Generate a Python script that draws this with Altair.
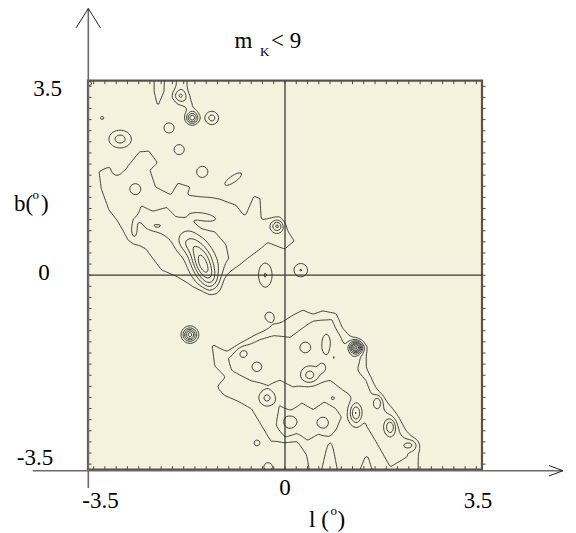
import numpy as np
import pandas as pd
import altair as alt

alt.data_transformers.disable_max_rows()

# ---------------------------------------------------------------------------
# Data (galactic l, b in degrees)
# Outlines of the low-density regions (level-1 / level-2 plateaus)
nw_l = [-3.34, -3.05, -2.85, -2.6, -2.4, -2.22, -2.36, -2.27, -2.04, -1.92, -1.65, -1.69,
        -1.15, -0.85, -0.72, -0.57, -0.41, -0.39, -0.09, 0.21, 0.0, -0.3, -0.55, -0.8,
        -1.10, -1.35, -1.63, -1.95, -2.22, -2.5, -2.81, -3.0, -3.16, -3.3]
nw_b = [1.88, 2.05, 1.95, 2.25, 2.27, 2.02, 1.88, 1.61, 1.49, 1.70, 1.61, 1.47,
        1.40, 1.29, 1.12, 1.47, 1.40, 1.04, 1.07, 0.61, 0.43, 0.55, 0.35, 0.15,
        -0.05, -0.28, -0.23, -0.05, 0.07, 0.45, 0.61, 0.95, 1.16, 1.55]

nw2_l = [-2.55, -2.35, -2.1, -1.95, -1.7, -1.5, -1.25, -1.05, -1.0, -1.15, -1.3, -1.55,
         -1.75, -1.95, -2.2, -2.45, -2.65]
nw2_b = [1.25, 1.15, 1.22, 1.05, 0.98, 0.82, 0.78, 0.55, 0.3, 0.1, 0.25, 0.4,
         0.5, 0.6, 0.75, 0.9, 1.0]

tongue_l = [-2.36, -2.36, -2.30, -2.26, -2.20, -2.12, -2.10]
tongue_b = [3.80, 3.30, 3.05, 2.93, 3.10, 3.30, 3.80]

cap_l = [-1.98, -1.95, -1.98, -1.90, -1.75, -1.62, -1.62, -1.72, -1.68]
cap_b = [3.80, 3.35, 3.20, 3.08, 2.98, 2.95, 3.10, 3.30, 3.80]

se_l = [-1.33, -1.28, -1.03, -0.85, -0.57, -0.32, -0.09, 0.14, 0.32, 0.50, 0.67, 0.92,
        1.03, 1.21, 1.46, 1.47, 1.56, 1.69, 1.92, 2.04, 2.17, 2.34, 2.40, 2.40,
        1.60, 1.45, 1.25, 0.95, 0.80, 0.62, 0.45, 0.35, 0.21, -0.27, -0.62, -0.85,
        -1.10, -1.21, -1.10, -1.28]
se_b = [-1.26, -1.21, -1.35, -1.26, -1.08, -0.95, -0.83, -0.68, -0.59, -0.68, -0.61, -0.68,
        -0.94, -1.12, -1.29, -1.65, -1.89, -2.12, -2.37, -2.55, -2.79, -2.97, -3.15, -3.80,
        -3.80, -3.30, -3.80, -3.80, -3.00, -3.80, -3.80, -3.25, -3.02, -3.02, -2.43, -2.30,
        -2.19, -2.01, -1.83, -1.65]

se2_l = [0.09, 0.50, 0.85, 1.01, 1.10, 1.28, 1.47, 1.56, 1.87, 2.10, 2.17, 1.87,
         1.63, 1.46, 1.39, 1.03, 0.80, 0.50, 0.14, -0.09, -0.30, -0.60, -0.95, -1.02,
         -0.75, -0.45, -0.20]
se2_b = [-1.12, -0.81, -0.77, -1.12, -1.47, -1.71, -1.89, -2.19, -2.55, -2.91, -3.27, -3.45,
         -3.02, -2.73, -2.30, -2.07, -1.89, -1.94, -2.01, -1.89, -1.97, -1.90, -1.72, -1.48,
         -1.27, -1.14, -1.08]

se3_l = [-0.10, 0.10, 0.30, 0.50, 0.70, 0.90, 1.00, 0.92, 0.80, 0.60, 0.40, 0.20, 0.00, -0.15]
se3_b = [-2.35, -2.45, -2.30, -2.42, -2.28, -2.40, -2.55, -2.75, -2.95, -2.85, -2.98, -2.85,
         -2.95, -2.70]

region_outlines = [(nw_l, nw_b, 1.5), (nw2_l, nw2_b, 1.0), (tongue_l, tongue_b, 1.5),
                   (cap_l, cap_b, 1.5), (se_l, se_b, 1.5), (se2_l, se2_b, 1.0),
                   (se3_l, se3_b, 1.0)]

# Density peaks: centre, height (in contour steps), widths (deg), tilt (deg)
pk_l = [-1.86, -1.65, -1.30, -2.06, -3.25, -2.93, -1.88, -1.47, -0.92, -0.14,
        -2.66, -2.68, -2.30, -1.45, -1.45, -2.99, -3.47, 0.28, -0.35, -1.69,
        -0.28, 1.26, 1.22, 1.26, 1.87, 1.65, 0.44, 0.09, 0.67, 2.22,
        0.85, 0.67, -0.75, -0.50, -0.32, -1.10, -0.50, -0.30,
        -1.78, 0.36, 0.73, 0.85]
pk_b = [3.23, 2.83, 2.83, 2.65, 2.83, 2.45, 2.26, 1.86, 1.73, 0.88,
        1.55, 0.80, 0.88, 0.18, 1.05, 1.88, 3.45, 0.09, 0.00, -1.07,
        -0.74, -1.30, -1.52, -2.48, -2.73, -2.28, -1.80, -2.64, -2.66, -3.06,
        -2.21, -1.65, -1.40, -1.65, -2.21, -2.01, -3.02, -3.45,
        0.55, -1.30, -1.26, -1.47]
pk_amp = [1.8, 4.6, 2.4, 1.5, 1.6, 2.4, 1.5, 1.5, 1.4, 2.8,
          0.9, 0.8, 0.8, 5.0, 0.9, -0.8, 1.3, 2.05, 2.05, 5.5,
          1.4, 7.0, 0.9, 3.5, 2.6, 1.8, 2.0, 1.3, 1.0, 1.7,
          0.6, 0.8, 0.9, 0.9, 1.8, 0.7, 1.4, 1.8,
          0.9, 0.8, -0.8, 0.7]
pk_sl = [0.08, 0.075, 0.09, 0.10, 0.03, 0.15, 0.10, 0.11, 0.22, 0.07,
         0.09, 0.05, 0.12, 0.30, 0.20, 0.08, 0.05, 0.10, 0.10, 0.085,
         0.09, 0.075, 0.10, 0.075, 0.065, 0.06, 0.10, 0.09, 0.09, 0.10,
         0.035, 0.07, 0.08, 0.08, 0.09, 0.05, 0.06, 0.07,
         0.13, 0.10, 0.08, 0.035]
pk_sb = [0.08, 0.075, 0.09, 0.10, 0.03, 0.12, 0.10, 0.11, 0.07, 0.07,
         0.09, 0.13, 0.05, 0.13, 0.06, 0.08, 0.05, 0.10, 0.18, 0.085,
         0.09, 0.075, 0.10, 0.13, 0.10, 0.09, 0.10, 0.09, 0.09, 0.07,
         0.035, 0.10, 0.08, 0.08, 0.09, 0.05, 0.06, 0.07,
         0.13, 0.10, 0.20, 0.10]
pk_tilt = [0, 0, 0, 0, 0, 0, 0, 0, 35, 0,
           0, 0, 0, -65, -10, 0, 0, 0, 0, 0,
           0, 0, 0, 0, 0, 0, 0, 0, 0, 0,
           0, 0, 0, 0, 0, 0, 0, 0,
           0, 0, 0, 0]

levels = [1, 2, 3, 4, 5, 6, 7, 8]

ytick_text = ["3.5", "0", "-3.5"]
xtick_text = ["-3.5", "0", "3.5"]
edge_ticks = [round(v, 1) for v in np.arange(-3.4, 3.41, 0.2)]

# ---------------------------------------------------------------------------
# Density grid built from the regions and peaks, then contoured
gl = np.linspace(-3.5, 3.5, 235)
gb = np.linspace(-3.5, 3.5, 235)
step = gl[1] - gl[0]
LL, BB = np.meshgrid(gl, gb)


def region_field(pl, pb, height, width=0.05):
    P = np.column_stack([pl, pb]).astype(float)
    Q = np.roll(P, -1, axis=0)
    x = LL.ravel()[:, None]
    y = BB.ravel()[:, None]
    ax, ay = P[:, 0][None, :], P[:, 1][None, :]
    bx, by = Q[:, 0][None, :], Q[:, 1][None, :]
    dx, dy = bx - ax, by - ay
    t = np.clip(((x - ax) * dx + (y - ay) * dy) / (dx * dx + dy * dy), 0, 1)
    dist = np.sqrt((x - ax - t * dx) ** 2 + (y - ay - t * dy) ** 2).min(axis=1)
    cond = (ay > y) != (by > y)
    den = np.where(by - ay == 0, 1e-12, by - ay)
    xint = ax + (y - ay) * (bx - ax) / den
    inside = (cond & (x < xint)).sum(axis=1) % 2 == 1
    sd = np.where(inside, dist, -dist)
    return (height / (1 + np.exp(-sd / width))).reshape(LL.shape)


F = np.zeros_like(LL)
for pl, pb, h in region_outlines:
    F += region_field(pl, pb, h)
for l0, b0, a, sl, sb, tilt in zip(pk_l, pk_b, pk_amp, pk_sl, pk_sb, pk_tilt):
    th = np.deg2rad(tilt)
    u = (LL - l0) * np.cos(th) + (BB - b0) * np.sin(th)
    v = -(LL - l0) * np.sin(th) + (BB - b0) * np.cos(th)
    F += a * np.exp(-0.5 * ((u / sl) ** 2 + (v / sb) ** 2))

TABLE = {1: (3, 0), 2: (0, 1), 3: (3, 1), 4: (1, 2), 6: (0, 2), 7: (3, 2), 8: (2, 3),
         9: (0, 2), 11: (1, 2), 12: (3, 1), 13: (0, 1), 14: (3, 0)}


def trace(level):
    A = (F > level).astype(np.int16)
    case = A[:-1, :-1] + 2 * A[:-1, 1:] + 4 * A[1:, 1:] + 8 * A[1:, :-1]
    js, iis = np.nonzero((case > 0) & (case < 15))
    adj = {}

    def add(a, b):
        adj.setdefault(a, []).append(b)
        adj.setdefault(b, []).append(a)

    for j, i in zip(js.tolist(), iis.tolist()):
        c = int(case[j, i])
        e = (("h", j, i), ("v", j, i + 1), ("h", j + 1, i), ("v", j, i))
        if c in (5, 10):
            centre = (F[j, i] + F[j, i + 1] + F[j + 1, i + 1] + F[j + 1, i]) / 4 > level
            if c == 5:
                pairs = ((0, 1), (2, 3)) if centre else ((3, 0), (1, 2))
            else:
                pairs = ((3, 0), (1, 2)) if centre else ((0, 1), (2, 3))
        else:
            pairs = (TABLE[c],)
        for p, q in pairs:
            add(e[p], e[q])

    def pos(key):
        k, j, i = key
        if k == "h":
            f0, f1 = F[j, i], F[j, i + 1]
            t = (level - f0) / (f1 - f0)
            return gl[i] + t * step, gb[j]
        f0, f1 = F[j, i], F[j + 1, i]
        t = (level - f0) / (f1 - f0)
        return gl[i], gb[j] + t * step

    visited = set()
    paths = []
    starts = [k for k, v in adj.items() if len(v) == 1] + list(adj.keys())
    for s in starts:
        if s in visited:
            continue
        path = [s]
        visited.add(s)
        cur = s
        while True:
            nxt = next((n for n in adj[cur] if n not in visited), None)
            if nxt is None:
                break
            visited.add(nxt)
            path.append(nxt)
            cur = nxt
        if len(path) > 2 and s in adj[cur]:
            path.append(s)
        paths.append([pos(k) for k in path])
    return paths


rows = []
line_id = 0
for lev in levels:
    for path in trace(lev):
        for k, (l, b) in enumerate(path):
            rows.append((round(float(l), 4), round(float(b), 4), line_id, k))
        line_id += 1
contour_df = pd.DataFrame(rows, columns=["l", "b", "line", "k"])

# ---------------------------------------------------------------------------
SERIF = "Liberation Serif"
INK = "#2b2b2b"
W, H = 394, 389
OX, OY = 88.0, 80.7  # page position of the plot area

xs = alt.Scale(domain=[-3.5, 3.5], nice=False, zero=False)
ys = alt.Scale(domain=[-3.5, 3.5], nice=False, zero=False)
one = pd.DataFrame({"z": [0]})


def text(t, px, py, size=23, align="center"):
    return alt.Chart(pd.DataFrame({"t": [t]})).mark_text(
        font=SERIF, fontSize=size, align=align, baseline="alphabetic", color="black"
    ).encode(x=alt.value(px - OX), y=alt.value(py - OY), text="t:N")


def seg(x1, y1, x2, y2, color="#222222", w=1.0):
    return alt.Chart(one).mark_rule(color=color, strokeWidth=w).encode(
        x=alt.value(x1 - OX), y=alt.value(y1 - OY), x2=alt.value(x2 - OX), y2=alt.value(y2 - OY))


vline = alt.Chart(pd.DataFrame({"l": [0.0]})).mark_rule(color="#3a3a3a", strokeWidth=1.3).encode(
    x=alt.X("l:Q", scale=xs, axis=None))
hline = alt.Chart(pd.DataFrame({"b": [0.0]})).mark_rule(color="#3a3a3a", strokeWidth=1.3).encode(
    y=alt.Y("b:Q", scale=ys, axis=None))

contours = alt.Chart(contour_df).mark_line(color=INK, strokeWidth=0.9, clip=True).encode(
    x=alt.X("l:Q", scale=xs, axis=None),
    y=alt.Y("b:Q", scale=ys, axis=None),
    detail="line:N",
    order="k:Q",
)

tick_df = pd.DataFrame({"v": edge_ticks})
TK = "#4a4a44"
ticks_top = alt.Chart(tick_df).mark_rule(color=TK, strokeWidth=1).encode(
    x=alt.X("v:Q", scale=xs, axis=None), y=alt.value(0), y2=alt.value(3.5))
ticks_bot = alt.Chart(tick_df).mark_rule(color=TK, strokeWidth=1).encode(
    x=alt.X("v:Q", scale=xs, axis=None), y=alt.value(H), y2=alt.value(H - 3.5))
ticks_left = alt.Chart(tick_df).mark_rule(color=TK, strokeWidth=1).encode(
    y=alt.Y("v:Q", scale=ys, axis=None), x=alt.value(0), x2=alt.value(3.5))
ticks_right = alt.Chart(tick_df).mark_rule(color=TK, strokeWidth=1).encode(
    y=alt.Y("v:Q", scale=ys, axis=None), x=alt.value(W), x2=alt.value(W + 3.5))

layers = [
    vline, hline, contours, ticks_top, ticks_bot, ticks_left, ticks_right,
    # axes with arrows
    seg(88.3, 8.5, 88.3, 488, color="#6a6a6a", w=1.6),
    seg(32.7, 470.7, 563, 470.7, color="#6a6a6a", w=1.6),
    seg(76, 28, 88.3, 8.5), seg(100.5, 28, 88.3, 8.5),
    seg(549, 465.5, 563, 470.7), seg(549, 476, 563, 470.7),
    # tick labels
    text(ytick_text[0], 47.5, 96.5), text(ytick_text[1], 44, 280.5), text(ytick_text[2], 35, 465),
    text(xtick_text[0], 100.5, 508), text(xtick_text[1], 285, 495), text(xtick_text[2], 478, 508),
    # axis titles
    text("b(", 14, 211, align="left"), text("o", 32.5, 199, size=13, align="left"),
    text(")", 41, 211, align="left"),
    text("l (", 309, 527, align="left"), text("o", 330.5, 515, size=13, align="left"),
    text(")", 337.5, 527, align="left"),
    # title m_K < 9
    text("m", 234.5, 48, align="left"), text("K", 260, 56, size=13, align="left"),
    text("< 9", 271, 48, align="left"),
]

chart = alt.layer(*layers).properties(
    width=W, height=H,
    padding={"left": 80, "top": 72.7, "right": 86, "bottom": 63},
    autosize=alt.AutoSizeParams(type="none"),
).configure_view(fill="#F4F2DC", stroke="#55554d", strokeWidth=2.2)

chart.save("out.html", embed_options={"renderer": "svg", "actions": False})
